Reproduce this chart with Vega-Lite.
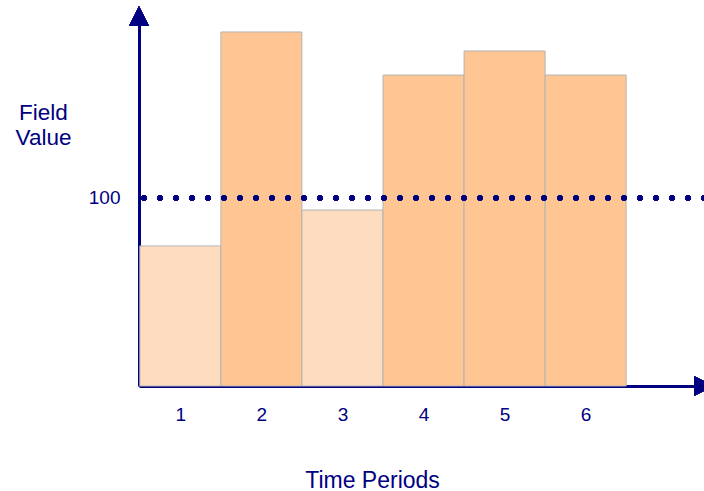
{
  "$schema": "https://vega.github.io/schema/vega-lite/v6.json",
  "autosize": {"type": "none"},
  "width": 565,
  "height": 370,
  "padding": {"left": 139, "top": 16, "right": 0, "bottom": 105},
  "background": "white",
  "config": {
    "view": {"stroke": null},
    "font": "Liberation Sans",
    "axis": {"grid": false, "ticks": false, "tickSize": 0, "domainColor": "#000080", "domainWidth": 3, "labelColor": "#000080", "titleColor": "#000080", "labelFont": "Liberation Sans", "titleFont": "Liberation Sans", "titleFontWeight": "normal"}
  },
  "data": {"values": [
    {"period": 1, "value": 74.5},
    {"period": 2, "value": 188.3},
    {"period": 3, "value": 93.6},
    {"period": 4, "value": 165.4},
    {"period": 5, "value": 178.2},
    {"period": 6, "value": 165.4}
  ]},
  "layer": [
    {
      "mark": {"type": "bar", "width": 81, "stroke": "#B4B4B4", "strokeWidth": 1},
      "encoding": {
        "x": {"field": "period", "type": "quantitative",
          "scale": {"domain": [0.49, 7.46], "nice": false, "zero": false, "padding": 0},
          "axis": {"values": [1, 2, 3, 4, 5, 6], "format": "d", "labelFontSize": 19, "labelPadding": 19, "labelFlush": false, "labelOverlap": false,
            "title": "Time Periods", "titleFontSize": 23, "titleX": 233, "titleY": 101, "titleAnchor": null, "titleAlign": "center", "titleBaseline": "alphabetic"}},
        "y": {"field": "value", "type": "quantitative",
          "scale": {"domain": [0, 196.8], "nice": false, "padding": 0},
          "axis": {"values": [100], "labelFontSize": 19, "labelPadding": 19,
            "title": ["Field", "Value"], "titleAngle": 0, "titleX": -96, "titleY": 103, "titleAlign": "center", "titleBaseline": "alphabetic", "titleFontSize": 22.5, "titleLineHeight": 25}},
        "color": {"condition": {"test": "datum.value < 100", "value": "#FDDCBF"}, "value": "#FFC592"}
      }
    },
    {
      "mark": {"type": "rule", "color": "#000080", "strokeWidth": 5.5, "strokeDash": [0, 16], "strokeCap": "round"},
      "encoding": {"y": {"datum": 100, "type": "quantitative"}}
    },
    {
      "mark": {"type": "point", "shape": "M0,-1L1,1L-1,1Z", "size": 400, "filled": true, "color": "#000080", "opacity": 1},
      "encoding": {"x": {"datum": 0.49, "type": "quantitative"}, "y": {"datum": 196.8, "type": "quantitative"}}
    },
    {
      "mark": {"type": "point", "shape": "M1,0L-1,-1L-1,1Z", "size": 400, "filled": true, "color": "#000080", "opacity": 1},
      "encoding": {"x": {"datum": 7.46, "type": "quantitative"}, "y": {"datum": 0, "type": "quantitative"}}
    }
  ]
}
